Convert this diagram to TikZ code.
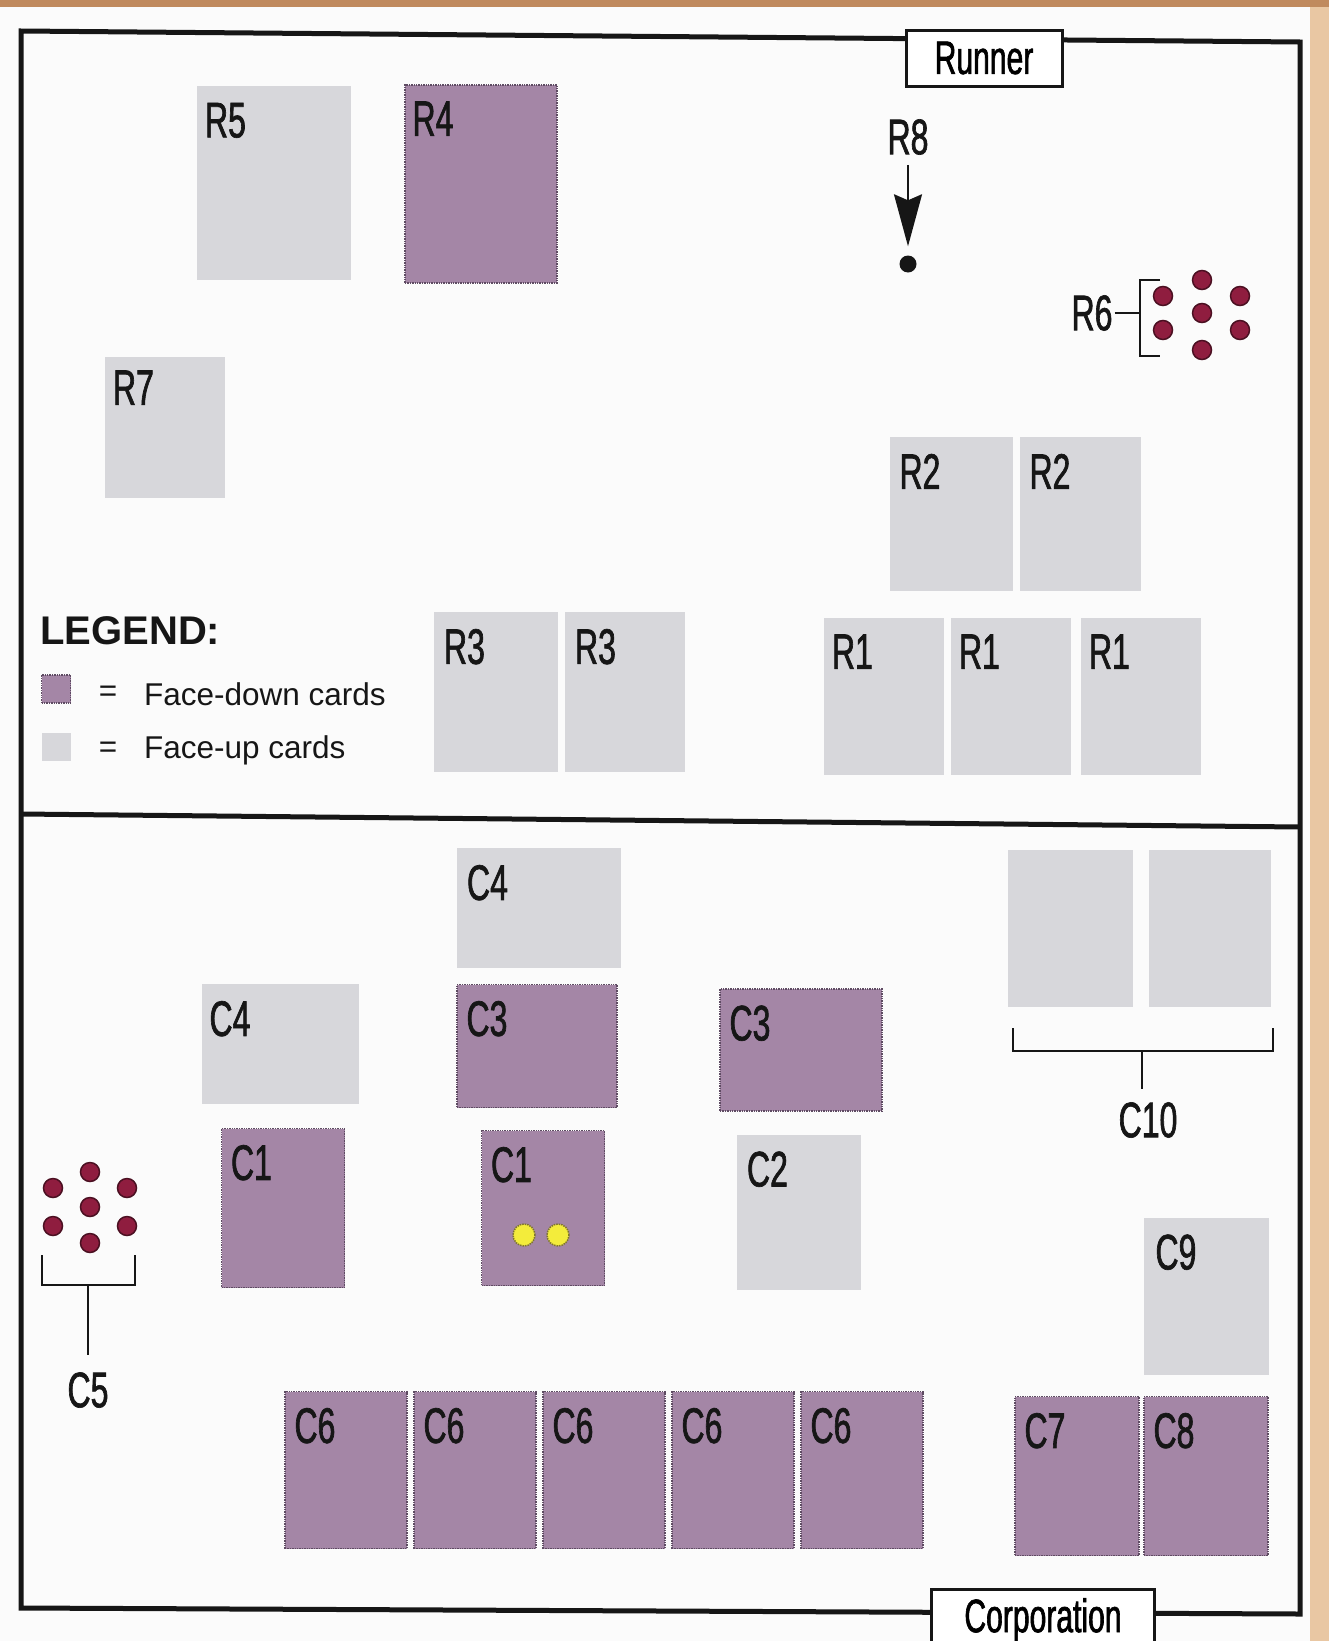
\documentclass[tikz,border=0pt]{standalone}
\usepackage{fontspec}
\setmainfont{Liberation Sans}
\newfontfamily\tagfont[FakeStretch=0.64,FakeBold=1.3]{Liberation Sans}
\usetikzlibrary{arrows.meta,positioning}
\definecolor{Ink}{HTML}{161616}
\definecolor{FaceUp}{HTML}{D7D7DB}
\definecolor{FaceDown}{HTML}{A486A6}
\definecolor{FaceDownEdge}{HTML}{5E4B62}
\definecolor{Token}{HTML}{8F1D3F}
\definecolor{TokenEdge}{HTML}{4B1022}
\definecolor{Credit}{HTML}{F3EC3B}
\definecolor{CreditEdge}{HTML}{7D7330}
\definecolor{Paper}{HTML}{FBFBFB}
\definecolor{ScanEdge}{HTML}{C08A5E}
\definecolor{ScanSide}{HTML}{E9C7A3}
\tikzset{card/.style={minimum width=123pt,minimum height=157pt,inner sep=0pt},faceup/.style={card,fill=FaceUp},facedown/.style={card,fill=FaceDown,draw=FaceDownEdge,densely dotted,line width=1.4pt},tag/.style={font=\tagfont\fontsize{50}{50}\selectfont,text=Ink,inner sep=0pt},side/.style={draw=Ink,line width=3pt,fill=white,font=\tagfont\fontsize{47}{47}\selectfont,inner sep=0pt},token/.style={circle,fill=Token,draw=TokenEdge,line width=1.5pt,minimum size=19pt,inner sep=0pt},credit/.style={circle,fill=Credit,draw=CreditEdge,densely dotted,line width=1.5pt,minimum size=22pt,inner sep=0pt},frame/.style={draw=Ink,line width=5pt,line join=miter},brace/.style={draw=Ink,line width=2.5pt},pointer/.style={-{Stealth[length=52pt,width=28pt,inset=6pt]},draw=Ink,line width=2pt},key/.style={font=\fontsize{31.5}{31.5}\selectfont,text=Ink,inner sep=0pt}}

\begin{document}
\begin{tikzpicture}[x=1pt,y=-1pt]
  \useasboundingbox (0,0) rectangle (1329,1641);
  \fill[Paper] (0,0) rectangle (1329,1641);
  \fill[ScanSide] (1310,0) rectangle (1329,1641);
  \fill[ScanEdge] (0,0) rectangle (1329,7);
  % table outline
  \draw[frame] (21,31) -- (1300,42) -- (1300,1614) -- (21,1608) -- cycle;
  \draw[frame] (21,814) -- (1300,827);
  \node[side,minimum width=156pt,minimum height=56pt](runner) at (984,58){Runner};
  \node[side,minimum width=223pt,minimum height=62pt](corp) at (1043,1620){Corporation};
  % runner side
  \node[faceup,minimum width=154pt,minimum height=194pt](r5) at (274,183){};
  \node[tag,below right=17pt and 8pt of r5.north west](r5l){R5};
  \node[facedown,minimum width=152pt,minimum height=198pt](r4) at (481,184){};
  \node[tag,below right=17pt and 8pt of r4.north west](r4l){R4};
  \node[faceup,minimum width=120pt,minimum height=141pt](r7) at (165,427){};
  \node[tag,below right=14pt and 8pt of r7.north west](r7l){R7};
  \node[faceup,minimum height=154pt](r2a) at (951,514){};
  \node[tag,below right=17pt and 10pt of r2a.north west](r2al){R2};
  \node[faceup,minimum width=121pt,minimum height=154pt](r2b) at (1080,514){};
  \node[tag,below right=17pt and 10pt of r2b.north west](r2bl){R2};
  \node[faceup,minimum width=124pt,minimum height=160pt](r3a) at (496,692){};
  \node[tag,below right=17pt and 10pt of r3a.north west](r3al){R3};
  \node[faceup,minimum width=120pt,minimum height=160pt](r3b) at (625,692){};
  \node[tag,below right=17pt and 10pt of r3b.north west](r3bl){R3};
  \node[faceup,minimum width=120pt](r1a) at (884,696){};
  \node[tag,below right=17pt and 8pt of r1a.north west](r1al){R1};
  \node[faceup,minimum width=120pt](r1b) at (1011,696){};
  \node[tag,below right=17pt and 8pt of r1b.north west](r1bl){R1};
  \node[faceup,minimum width=120pt](r1c) at (1141,696){};
  \node[tag,below right=17pt and 8pt of r1c.north west](r1cl){R1};
  \node[tag](r8) at (908,137){R8};
  \node[circle,fill=Ink,minimum size=17pt,inner sep=0pt](r8dot) at (908,264){};
  \draw[pointer,shorten <=10pt,shorten >=9pt](r8)--(r8dot);
  \node[tag](r6) at (1092,313){R6};
  \coordinate (r6b) at (1140,313);
  \draw[brace,shorten <=2pt](r6)--(r6b);
  \draw[brace] (1160,280) -| (1140,356) -- (1160,356);
  \node[token](r6t1) at (1202,280){};\node[token](r6t2) at (1163,296){};\node[token](r6t3) at (1240,296){};
  \node[token](r6t4) at (1202,313){};\node[token](r6t5) at (1163,330){};\node[token](r6t6) at (1240,330){};
  \node[token](r6t7) at (1202,350){};
  % legend
  \node[font=\bfseries\fontsize{40}{40}\selectfont,text=Ink,anchor=west,inner sep=0pt](legend) at (40,631){LEGEND:};
  \node[facedown,minimum width=29pt,minimum height=28pt](keydown) at (56,689){};
  \node[key](eqdown) at (108,694){=};
  \node[key,anchor=west](txtdown) at (144,694){Face-down cards};
  \node[faceup,minimum width=29pt,minimum height=28pt](keyup) at (56,747){};
  \node[key](equp) at (108,750){=};
  \node[key,anchor=west](txtup) at (144,750){Face-up cards};
  % corporation side
  \node[faceup,minimum width=164pt,minimum height=120pt](c4a) at (539,908){};
  \node[tag,below right=17pt and 10pt of c4a.north west](c4al){C4};
  \node[faceup,minimum width=125pt](c10a) at (1070,928){};
  \node[faceup,minimum width=122pt](c10b) at (1210,928){};
  \draw[brace] (1013,1028) |- (1273,1051) -- (1273,1028);
  \coordinate (c10s) at (1142,1051);
  \node[tag](c10) at (1148,1120){C10};
  \draw[brace,shorten >=13pt](c10s)--(c10s |- c10.north);
  \node[faceup,minimum width=157pt,minimum height=120pt](c4b) at (280,1044){};
  \node[tag,below right=17pt and 8pt of c4b.north west](c4bl){C4};
  \node[facedown,minimum width=160pt,minimum height=123pt](c3a) at (537,1046){};
  \node[tag,below right=17pt and 10pt of c3a.north west](c3al){C3};
  \node[facedown,minimum width=162pt,minimum height=122pt](c3b) at (801,1050){};
  \node[tag,below right=17pt and 10pt of c3b.north west](c3bl){C3};
  \node[facedown,minimum height=159pt](c1a) at (283,1208){};
  \node[tag,below right=17pt and 10pt of c1a.north west](c1al){C1};
  \node[facedown,minimum height=155pt](c1b) at (543,1208){};
  \node[tag,below right=17pt and 10pt of c1b.north west](c1bl){C1};
  \node[credit](coin1) at (524,1235){};\node[credit](coin2) at (558,1235){};
  \node[faceup,minimum width=124pt,minimum height=155pt](c2) at (799,1212){};
  \node[tag,below right=17pt and 10pt of c2.north west](c2l){C2};
  \node[faceup,minimum width=125pt](c9) at (1206,1296){};
  \node[tag,below right=17pt and 12pt of c9.north west](c9l){C9};
  \node[token](c5t1) at (90,1172){};\node[token](c5t2) at (53,1188){};\node[token](c5t3) at (127,1188){};
  \node[token](c5t4) at (90,1207){};\node[token](c5t5) at (53,1226){};\node[token](c5t6) at (127,1226){};
  \node[token](c5t7) at (90,1243){};
  \draw[brace] (42,1255) |- (135,1285) -- (135,1255);
  \coordinate (c5s) at (88,1285);
  \node[tag](c5) at (88,1390){C5};
  \draw[brace,shorten >=17pt](c5s)--(c5s |- c5.north);
  \node[facedown,minimum width=122pt](c6a) at (346,1470){};
  \node[tag,below right=17pt and 10pt of c6a.north west](c6al){C6};
  \node[facedown,minimum width=122pt](c6b) at (475,1470){};
  \node[tag,below right=17pt and 10pt of c6b.north west](c6bl){C6};
  \node[facedown,minimum width=122pt](c6c) at (604,1470){};
  \node[tag,below right=17pt and 10pt of c6c.north west](c6cl){C6};
  \node[facedown,minimum width=122pt](c6d) at (733,1470){};
  \node[tag,below right=17pt and 10pt of c6d.north west](c6dl){C6};
  \node[facedown,minimum width=122pt](c6e) at (862,1470){};
  \node[tag,below right=17pt and 10pt of c6e.north west](c6el){C6};
  \node[facedown,minimum width=124pt,minimum height=159pt](c7) at (1077,1476){};
  \node[tag,below right=17pt and 10pt of c7.north west](c7l){C7};
  \node[facedown,minimum width=124pt,minimum height=159pt](c8) at (1206,1476){};
  \node[tag,below right=17pt and 10pt of c8.north west](c8l){C8};
\end{tikzpicture}
\end{document}
